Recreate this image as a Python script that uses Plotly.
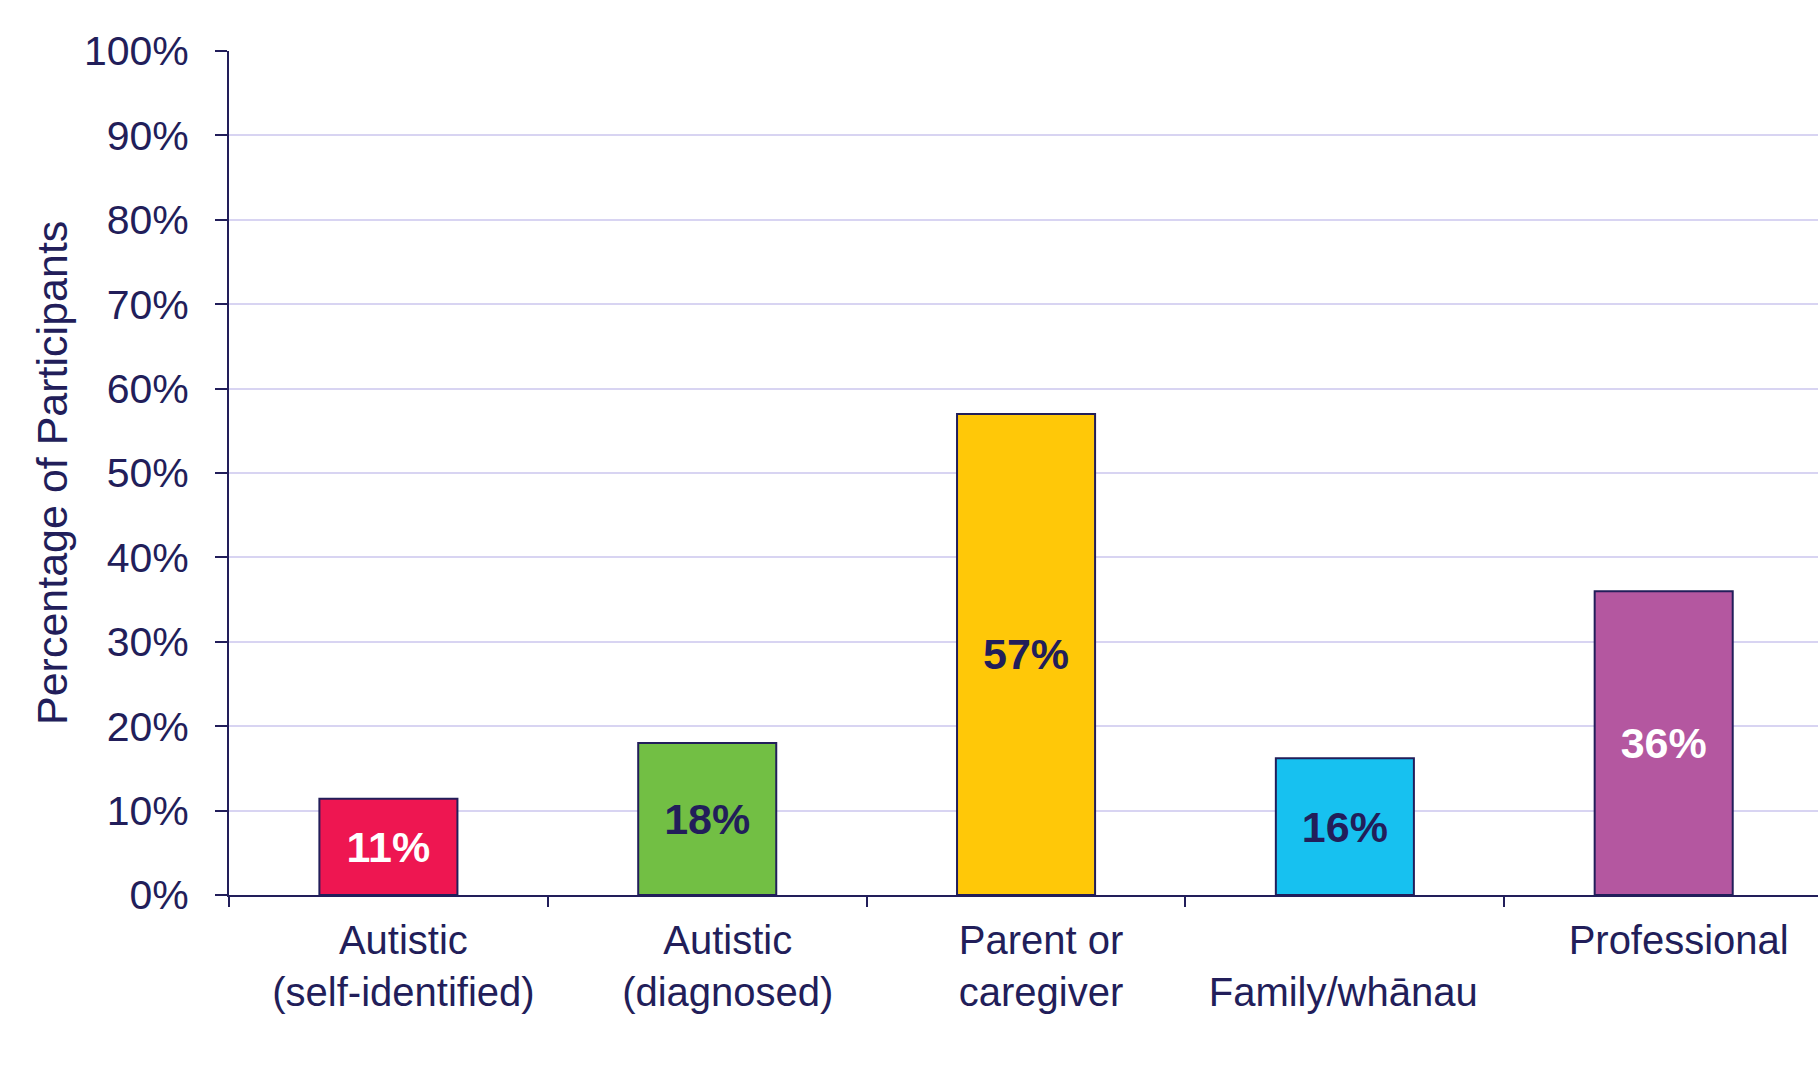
import plotly.graph_objects as go

categories = ["Autistic<br>(self-identified)", "\u00a0Autistic<br>\u00a0(diagnosed)",
              "Parent or<br>caregiver", "\u00a0<br>Family/wh\u0101nau\u00a0\u00a0\u00a0", "Professional<br>\u00a0"]
values = [11.4, 18.0, 57.0, 16.2, 36.0]
bar_colors = ["#EE1651", "#72BF44", "#FFC808", "#17C1F0", "#B457A0"]
label_colors = ["#FFFFFF", "#221E5A", "#221E5A", "#221E5A", "#FFFFFF"]
y_ticks = [0, 10, 20, 30, 40, 50, 60, 70, 80, 90, 100]

NAVY = "#221E5A"
GRID = "#D8D4F2"
FONT = "Liberation Sans, Arial, sans-serif"

fig = go.Figure()
fig.add_trace(go.Bar(
    x=categories,
    y=values,
    width=0.433,
    marker=dict(color=bar_colors, line=dict(color=NAVY, width=2)),
    texttemplate="%{y:.0f}%",
    textposition="inside",
    insidetextanchor="middle",
    textangle=0,
    constraintext="none",
    textfont=dict(family=FONT, size=43, color=label_colors, weight="bold"),
    hoverinfo="skip",
))

fig.update_layout(
    width=1818, height=1069,
    margin=dict(l=229, r=0, t=51, b=174),
    paper_bgcolor="white", plot_bgcolor="white",
    showlegend=False,
    font=dict(family=FONT, color=NAVY),
)

fig.update_xaxes(
    type="category",
    range=[-0.5, 4.484],
    tickson="boundaries",
    ticks="outside", ticklen=10, tickwidth=2, tickcolor=NAVY,
    showline=True, linecolor=NAVY, linewidth=2,
    showgrid=False, zeroline=False,
    tickfont=dict(family=FONT, size=40, color=NAVY),
    ticklabelshift=15,
    ticklabelstandoff=9,
)

fig.update_yaxes(
    range=[0, 100],
    tickmode="array",
    tickvals=y_ticks,
    ticktext=[f"{v}%" for v in y_ticks],
    ticks="outside", ticklen=12, tickwidth=2, tickcolor=NAVY,
    showline=True, linecolor=NAVY, linewidth=2,
    showgrid=True, gridcolor=GRID, gridwidth=2,
    zeroline=False,
    tickfont=dict(family=FONT, size=41, color=NAVY),
    ticklabelstandoff=18,
)

fig.add_annotation(
    text="Percentage of Participants",
    xref="paper", yref="paper",
    x=0, y=0.5, xanchor="center", yanchor="middle",
    xshift=-177, textangle=-90, showarrow=False,
    font=dict(family=FONT, size=43, color=NAVY),
)

fig.write_html("out.html")
